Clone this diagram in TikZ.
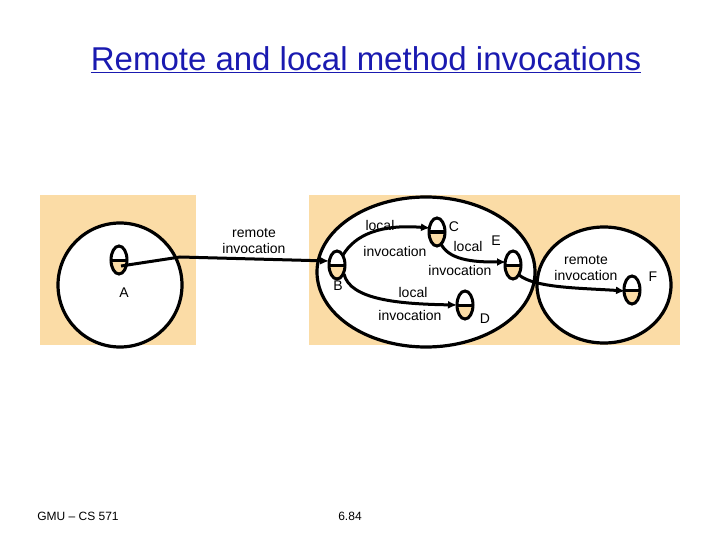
\documentclass[tikz,border=0pt]{standalone}
\usepackage{fontspec}
\setmainfont{Liberation Sans}
\usetikzlibrary{arrows.meta}
\definecolor{peach}{HTML}{FBDCA6}
\definecolor{tblue}{HTML}{1A1AB0}
\begin{document}
\begin{tikzpicture}[x=1pt,y=-1pt,
  lbl/.style={font=\fontsize{14}{15.5}\selectfont,align=center,inner sep=0pt},
  ring/.style={draw=black,line width=3.2pt,fill=white},
  inv/.style={line width=3pt,-{Latex[length=9pt,width=8pt]}}]
\useasboundingbox (0,0) rectangle (720,540);
\node[font=\fontsize{33}{38}\selectfont,text=tblue] (title) at (366,60) {\underline{Remote and local method invocations}};
\fill[peach] (40,195) rectangle (196,345);
\fill[peach] (309,195) rectangle (680,345);
\draw[ring] (120,285) circle [radius=62];
\draw[ring] (426,272) ellipse [x radius=109,y radius=75];
\draw[ring] (604,285) ellipse [x radius=67,y radius=58];
\newcommand{\obj}[2]{%
  \begin{scope}
  \clip (#1-9,#2) rectangle (#1+9,#2+15);
  \fill[peach] (#1,#2) ellipse [x radius=8,y radius=14];
  \end{scope}
  \draw[line width=3pt] (#1,#2) ellipse [x radius=8,y radius=14];
  \draw[line width=3pt] (#1-8,#2) -- (#1+8,#2);}
\obj{119}{260}\obj{337}{265}\obj{437}{232}\obj{513}{265}\obj{465}{305}\obj{632}{290}
\coordinate (A) at (121,266);
\coordinate (Bin) at (329,261);
\coordinate (Bo1) at (343,255);
\coordinate (Bo2) at (344,274);
\coordinate (Cin) at (430,228);
\coordinate (Co) at (441,244);
\coordinate (Ein) at (506,262);
\coordinate (Eo) at (519,275);
\coordinate (Din) at (457,305);
\coordinate (Fin) at (625,291);
\draw[inv] (A) -- (180,257) -- (Bin);
\draw[inv] (Bo1) .. controls (355,235) and (380,224) .. (Cin);
\draw[inv] (Bo2) .. controls (350,300) and (400,304) .. (Din);
\draw[inv] (Co) .. controls (450,262) and (480,262) .. (Ein);
\draw[inv] (Eo) .. controls (535,288) and (580,288) .. (Fin);
\node[lbl] (ta) at (124,293) {A};
\node[lbl] (tb) at (338,286) {B};
\node[lbl] (tc) at (454,227) {C};
\node[lbl] (te) at (496,241) {E};
\node[lbl] (td) at (485,319) {D};
\node[lbl] (tf) at (653,277) {F};
\node[lbl] (r1) at (254,241) {remote\\invocation};
\node[lbl] (l1a) at (380,225) {local};
\node[lbl] (l1b) at (395,251) {invocation};
\node[lbl] (l2a) at (468,246) {local};
\node[lbl] (l2b) at (460,270) {invocation};
\node[lbl] (l3a) at (413,292) {local};
\node[lbl] (l3b) at (410,315) {invocation};
\node[lbl] (r2) at (586,268) {remote\\invocation};
\node[lbl,font=\fontsize{12}{14}\selectfont] (f1) at (78,516) {GMU -- CS 571};
\node[lbl,font=\fontsize{12}{14}\selectfont] (f2) at (350,516) {6.84};
\end{tikzpicture}
\end{document}
